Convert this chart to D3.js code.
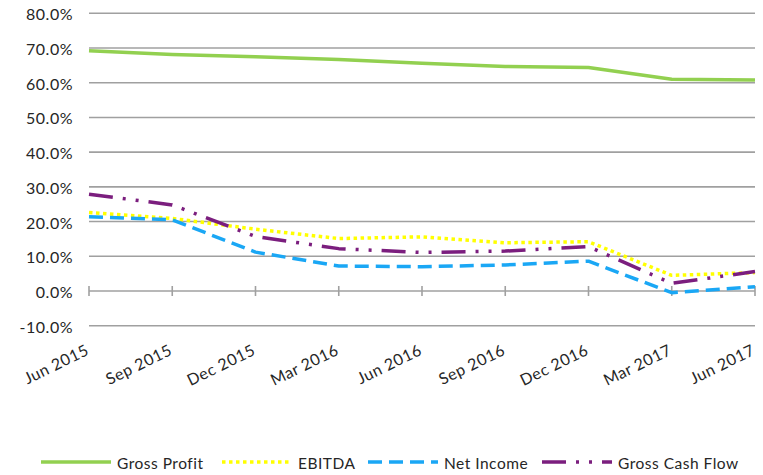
<!DOCTYPE html>
<html><head><meta charset="utf-8">
<script src="https://cdn.jsdelivr.net/npm/d3@7"></script>
<style>body{margin:0;background:#fff}svg{display:block}</style>
</head><body>
<svg id="c" width="763" height="475"></svg>
<script>
const categories = ["Jun 2015","Sep 2015","Dec 2015","Mar 2016","Jun 2016","Sep 2016","Dec 2016","Mar 2017","Jun 2017"];
const grossProfit   = [69.2, 68.1, 67.5, 66.7, 65.6, 64.7, 64.4, 61.0, 60.8];
const ebitda        = [22.6, 20.9, 17.8, 15.1, 15.6, 13.9, 14.2, 4.5, 5.3];
const netIncome     = [21.4, 20.5, 11.2, 7.2, 7.0, 7.5, 8.6, -0.5, 1.2];
const grossCashFlow = [27.9, 24.8, 15.7, 12.2, 11.1, 11.5, 12.8, 2.2, 5.6];
const yTicks = [-10, 0, 10, 20, 30, 40, 50, 60, 70, 80];

const series = [
  {name:"Gross Profit", values:grossProfit, color:"#92D050", dash:null},
  {name:"EBITDA", values:ebitda, color:"#FFFF00", dash:"3.5,3.5"},
  {name:"Net Income", values:netIncome, color:"#1AA7F5", dash:"14,7"},
  {name:"Gross Cash Flow", values:grossCashFlow, color:"#7B1E7E", dash:"24,10,3,10,3,10"}
];

const svg = d3.select("#c");
const font = "Lato, 'Open Sans', sans-serif";
const textColor = "#262626";
const x = d3.scalePoint().domain(categories).range([89, 755]);
const y = d3.scaleLinear().domain([-10, 80]).range([325.7, 13.3]);

// gridlines
svg.append("g").selectAll("line").data(yTicks.filter(d => d !== 0)).join("line")
  .attr("x1", 89).attr("x2", 755)
  .attr("y1", d => y(d)).attr("y2", d => y(d))
  .attr("stroke", "#A0A0A0").attr("stroke-width", 1.6);

// y labels
svg.append("g").selectAll("text").data(yTicks).join("text")
  .attr("x", 73).attr("y", d => y(d) + 7)
  .attr("text-anchor", "end")
  .attr("font-family", font).attr("font-size", 16).attr("letter-spacing", 0.5).attr("fill", textColor)
  .text(d => d.toFixed(1) + "%");

// x axis at 0
const xAxis = svg.append("g");
xAxis.append("line").attr("x1", 89).attr("x2", 755).attr("y1", y(0)).attr("y2", y(0))
  .attr("stroke", "#A0A0A0").attr("stroke-width", 1.6);
xAxis.selectAll("line.t").data(categories).join("line").attr("class","t")
  .attr("x1", d => x(d)).attr("x2", d => x(d))
  .attr("y1", y(0) - 5).attr("y2", y(0) + 5)
  .attr("stroke", "#A0A0A0").attr("stroke-width", 1.6);

// x labels
svg.append("g").selectAll("text").data(categories).join("text")
  .attr("transform", d => `translate(${x(d) + 1},${354}) rotate(-26)`)
  .attr("text-anchor", "end")
  .attr("font-family", font).attr("font-size", 16).attr("letter-spacing", 0.5).attr("fill", textColor)
  .text(d => d);

// lines
const line = d3.line().x((d, i) => x(categories[i])).y(d => y(d));
svg.append("g").selectAll("path").data(series).join("path")
  .attr("d", d => line(d.values))
  .attr("fill", "none")
  .attr("stroke", d => d.color)
  .attr("stroke-width", 3.5)
  .attr("stroke-dasharray", d => d.dash)
  .attr("stroke-linecap", "butt")
  .attr("stroke-linejoin", "round");

// legend
const legendX = [41, 222, 368, 542];
const lg = svg.append("g").selectAll("g").data(series).join("g")
  .attr("transform", (d, i) => `translate(${legendX[i]},462)`);
lg.append("line").attr("x1", 0).attr("x2", 70).attr("y1", 0).attr("y2", 0)
  .attr("stroke", d => d.color).attr("stroke-width", 3.5)
  .attr("stroke-dasharray", d => d.dash);
lg.append("text").attr("x", 76).attr("y", 7)
  .attr("font-family", font).attr("font-size", 15.5).attr("letter-spacing", 0.5).attr("fill", textColor)
  .text(d => d.name);
</script>
</body></html>
